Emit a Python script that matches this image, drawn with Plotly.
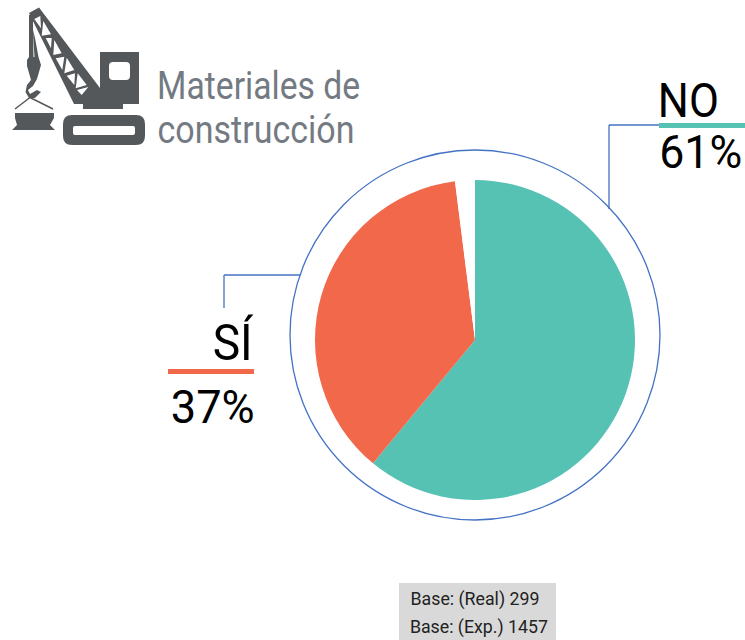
import plotly.graph_objects as go

W, H = 745, 640
categories = ["NO", "SÍ", ""]
values = [61, 37, 2]
colors = ["#56C2B4", "#F2684B", "#FFFFFF"]
pct_labels = ["61%", "37%"]
title_lines = ["Materiales de", "construcción"]
base_lines = ["Base: (Real) 299", "Base: (Exp.) 1457"]

ICON = "#54585A"
RING = "#4472C4"
FONT = "Roboto"

def fx(x): return x / W
def fy(y): return 1 - y / H

def poly(pts):
    return "M" + " L".join(f"{fx(x):.5f},{fy(y):.5f}" for x, y in pts) + " Z"

def rrect(x0, y0, x1, y1, r):
    p = lambda x, y: f"{fx(x):.5f},{fy(y):.5f}"
    return (f"M{p(x0+r,y0)} L{p(x1-r,y0)} Q{p(x1,y0)} {p(x1,y0+r)} L{p(x1,y1-r)} Q{p(x1,y1)} {p(x1-r,y1)} "
            f"L{p(x0+r,y1)} Q{p(x0,y1)} {p(x0,y1-r)} L{p(x0,y0+r)} Q{p(x0,y0)} {p(x0+r,y0)} Z")

body = [(29,13),(39,7.5),(100,88),(100,52),(139,52),(139,104),(123,104),(123,109),(83,109),(83,104),(74,104)]
holes = [
    [(34.3,19),(40.3,16),(41,28.3)],
    [(43.3,21),(51,34.3),(41.7,35.7)],
    [(45.7,38),(51.7,38),(51,48.3)],
    [(54.3,40),(61.7,53.3),(53.3,55)],
    [(55.7,58.3),(64.3,56.7),(62.3,70)],
    [(66.7,57.7),(74.3,70),(64.3,73.3)],
    [(66.7,75.7),(75,73.3),(74.3,85)],
    [(77.7,73.3),(86.7,85),(75.7,88.3)],
    [(77,90),(88.3,87),(81.7,95)],
]
cable = [(29,15),(33,15),(33,30),(35,38),(38.5,57),(41,65),(37,79),(33,86),(28,90),(30,94),(37,90),(41,92),
         (35,98),(29,98),(25.5,92),(27,85),(31,80),(27,66),(27,60),(29,57)]
slit = [(33,32),(34.5,57),(33.5,57)]
beam = [(15,113),(54,113),(54,118),(50,125),(55,130),(12,130),(17,125),(15,118)]

shapes = []
def add_path(path, fill=ICON):
    shapes.append(dict(type="path", xref="paper", yref="paper", path=path, fillcolor=fill, line=dict(width=0)))
def add_line(x0, y0, x1, y1, color, width):
    shapes.append(dict(type="line", xref="paper", yref="paper", x0=fx(x0), y0=fy(y0), x1=fx(x1), y1=fy(y1),
                       line=dict(color=color, width=width)))
def add_rect(x0, y0, x1, y1, color):
    shapes.append(dict(type="rect", xref="paper", yref="paper", x0=fx(x0), y0=fy(y0), x1=fx(x1), y1=fy(y1),
                       fillcolor=color, line=dict(width=0)))

add_path(" ".join([poly(body)] + [poly(h) for h in holes] + [rrect(109, 62, 130, 80, 4)]))
add_path(poly(cable) + " " + poly(slit))
add_path(poly(beam))
add_path(rrect(63, 115, 145, 145, 9) + " " + rrect(73, 126, 135, 135, 2))
add_line(15, 109, 30, 97.5, ICON, 1.5)
add_line(30, 97.5, 53, 109, ICON, 1.5)

shapes.append(dict(type="circle", xref="paper", yref="paper", x0=fx(290), y0=fy(150), x1=fx(660), y1=fy(520),
                   line=dict(color=RING, width=1.3), fillcolor="rgba(0,0,0,0)"))
add_line(659, 125, 609, 125, RING, 1.3)
add_line(609, 125, 609, 209, RING, 1.3)
add_line(300, 275, 224, 275, RING, 1.3)
add_line(224, 275, 224, 308, RING, 1.3)
add_rect(659, 123, 745, 128, colors[0])
add_rect(168, 369, 254, 374, colors[1])
add_rect(399, 583, 556, 640, "#D9D9D9")

widths = []
def txt(s, x0, x1, baseline, size, color):
    widths.append(x1 - x0)
    return dict(text=s, xref="paper", yref="paper", x=fx((x0 + x1) / 2), y=fy(baseline), xanchor="center",
                yanchor="bottom", showarrow=False, borderpad=0, borderwidth=0,
                yshift=-0.25 * size, font=dict(family=FONT, size=size, color=color))

annotations = [
    txt(title_lines[0], 157, 360, 99, 38, "#747A82"),
    txt(title_lines[1], 157, 354, 142, 38, "#747A82"),
    txt(categories[0], 658, 719, 117, 49, "#000000"),
    txt(pct_labels[0], 659, 742, 168, 46, "#000000"),
    txt(categories[1], 213, 253, 359, 50, "#000000"),
    txt(pct_labels[1], 170, 254, 422, 46, "#000000"),
    txt(base_lines[0], 410, 539, 605, 19, "#222222"),
    txt(base_lines[1], 410, 548, 633, 19, "#222222"),
]

fig = go.Figure(go.Pie(
    labels=categories, values=values, sort=False, direction="clockwise", rotation=0,
    marker=dict(colors=colors, line=dict(width=0)), textinfo="none", hoverinfo="skip", showlegend=False,
    domain=dict(x=[315 / W, 635 / W], y=[1 - 500 / H, 1 - 180 / H]),
))
fig.update_layout(width=W, height=H, margin=dict(l=0, r=0, t=0, b=0), paper_bgcolor="white",
                  shapes=shapes, annotations=annotations)

post = """
document.body.style.margin = '0';
var tw = %s;
function fit() {
  document.querySelectorAll('.annotation-text').forEach(function (t, i) {
    t.setAttribute('textLength', tw[i]);
    t.setAttribute('lengthAdjust', 'spacingAndGlyphs');
  });
}
fit();
requestAnimationFrame(fit);
setTimeout(fit, 50);
""" % widths
fig.write_html("out.html", post_script=post, config={"displayModeBar": False})
